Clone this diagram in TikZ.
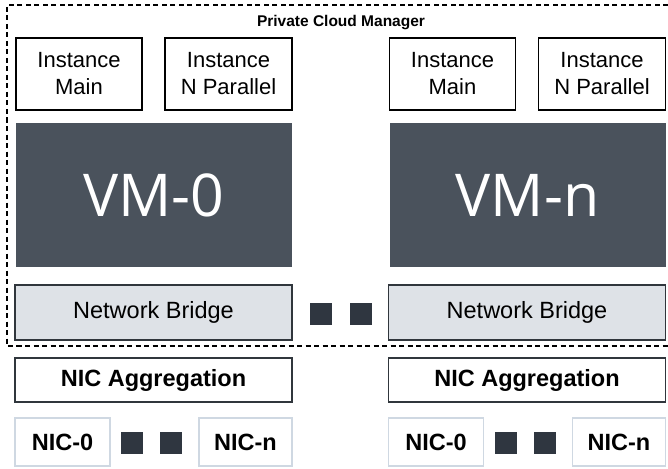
\documentclass[tikz,border=0pt]{standalone}
\usepackage{fontspec}
\setmainfont{Liberation Sans}
\newfontfamily\vmfont{Open Sans}
\usetikzlibrary{calc}

\definecolor{vmgray}{HTML}{4A525C}
\definecolor{bridgefill}{HTML}{DEE2E7}
\definecolor{darkline}{HTML}{30363C}
\definecolor{nicline}{HTML}{CFD8E2}
\definecolor{dotgray}{HTML}{2F3640}

\tikzset{
  box/.style={draw,line width=1.6pt,inner sep=0pt,anchor=center},
  inst/.style={box,draw=black,minimum width=126pt,minimum height=72pt,
    align=center,font=\fontsize{22}{27}\selectfont},
  vm/.style={box,draw=none,fill=vmgray,minimum width=276pt,minimum height=144pt,
    text=white,font=\vmfont\fontsize{59}{60}\selectfont},
  bridge/.style={box,draw=darkline,fill=bridgefill,minimum width=277pt,
    minimum height=55pt,font=\fontsize{23.5}{26}\selectfont},
  aggr/.style={box,draw=darkline,fill=white,minimum width=277pt,
    minimum height=44pt,font=\bfseries\fontsize{23.5}{26}\selectfont},
  nic/.style={box,draw=nicline,minimum height=48pt,
    font=\bfseries\fontsize{23.5}{26}\selectfont},
  dot/.style={fill=dotgray,minimum size=22pt,inner sep=0pt}
}

\begin{document}
\begin{tikzpicture}[x=1pt,y=-1pt]
  \useasboundingbox (0,0) rectangle (668,468);
  % manager frame, open on the right
  \draw[line width=1.4pt,dash pattern=on 5pt off 3.5pt]
    (668,5) -- (7,5) -- (7,346) -- (668,346);
  \node[font=\bfseries\fontsize{15.5}{18}\selectfont] (pcm) at (341,23)
    {Private Cloud Manager};

  % one column per VM
  \foreach \s/\dx in {0/0,n/373.5} {
    \begin{scope}[xshift=\dx]
      \node[inst] (main\s) at (79,74) {Instance\\Main};
      \node[inst,minimum width=127pt] (par\s) at (228.5,74) {Instance\\N Parallel};
      \node[vm] (vm\s) at (154,195) {VM-\s};
      \node[bridge] (br\s) at (153.5,312.5) {Network Bridge};
      \node[aggr] (agg\s) at (153.5,380) {NIC Aggregation};
      \node[nic,minimum width=95pt] (nicA\s) at (62.5,442) {NIC-0};
      \node[nic,minimum width=93pt] (nicB\s) at (245.5,442) {NIC-n};
      \node[dot] (dA\s) at (132,442.5) {};
      \node[dot] (dB\s) at (171,442.5) {};
    \end{scope}
  }

  % between the two bridges
  \node[dot] (mid0) at (321,314) {};
  \node[dot] (mid1) at (360.5,314) {};
\end{tikzpicture}
\end{document}
